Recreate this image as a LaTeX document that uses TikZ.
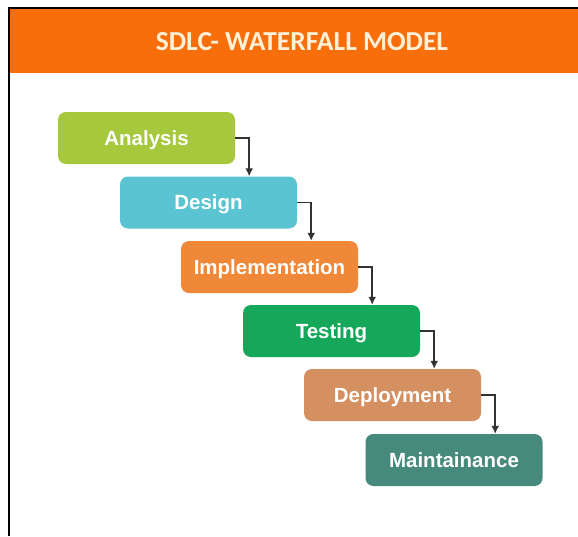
\documentclass[tikz,border=0pt]{standalone}
\usepackage{fontspec}
\setmainfont{Liberation Sans}
\newfontfamily\titlefont{Carlito}
\usetikzlibrary{arrows.meta}
\definecolor{banner}{RGB}{247,110,10}
\definecolor{titletxt}{RGB}{255,240,215}
\definecolor{cA}{RGB}{165,200,60}
\definecolor{cD}{RGB}{91,196,210}
\definecolor{cI}{RGB}{240,136,58}
\definecolor{cT}{RGB}{22,168,90}
\definecolor{cP}{RGB}{212,144,96}
\definecolor{cM}{RGB}{70,138,124}
\definecolor{arr}{RGB}{50,50,50}
\tikzset{
  stagebox/.style={rounded corners=8pt, minimum width=177pt, minimum height=52pt,
    inner sep=0pt, text=white, text height=14.7pt, text depth=0pt,
    font=\bfseries\fontsize{20.5}{24}\selectfont},
  flow/.style={draw=arr, line width=1.8pt, -{Latex[length=8pt,width=8pt]}},
}
\begin{document}
\begin{tikzpicture}[x=1pt,y=-1pt]
\useasboundingbox (0,0) rectangle (578,536);
\fill[white] (0,0) rectangle (578,536);
% banner
\fill[banner] (9,8) rectangle (578,73);
\draw[black, line width=2.2pt] (9,536) -- (9,8) -- (578,8);
\node[text=titletxt, font=\titlefont\bfseries\fontsize{27.5}{32}\selectfont] (title) at (302,42) {SDLC- WATERFALL MODEL};
% stages
\node[stagebox, fill=cA] (a) at (146.5,138) {Analysis};
\node[stagebox, fill=cD] (d) at (208.5,202.5) {Design};
\node[stagebox, fill=cI] (i) at (269.5,267) {Implementation};
\node[stagebox, fill=cT] (t) at (331.5,331) {Testing};
\node[stagebox, fill=cP] (p) at (392.5,395) {Deployment};
\node[stagebox, fill=cM] (m) at (454,460) {Maintainance};
% connectors
\draw[flow] (a.east) -| ([xshift=14pt]a.east |- d.north);
\draw[flow] (d.east) -| ([xshift=14pt]d.east |- i.north);
\draw[flow] (i.east) -| ([xshift=14pt]i.east |- t.north);
\draw[flow] (t.east) -| ([xshift=14pt]t.east |- p.north);
\draw[flow] (p.east) -| ([xshift=14pt]p.east |- m.north);
\end{tikzpicture}
\end{document}
